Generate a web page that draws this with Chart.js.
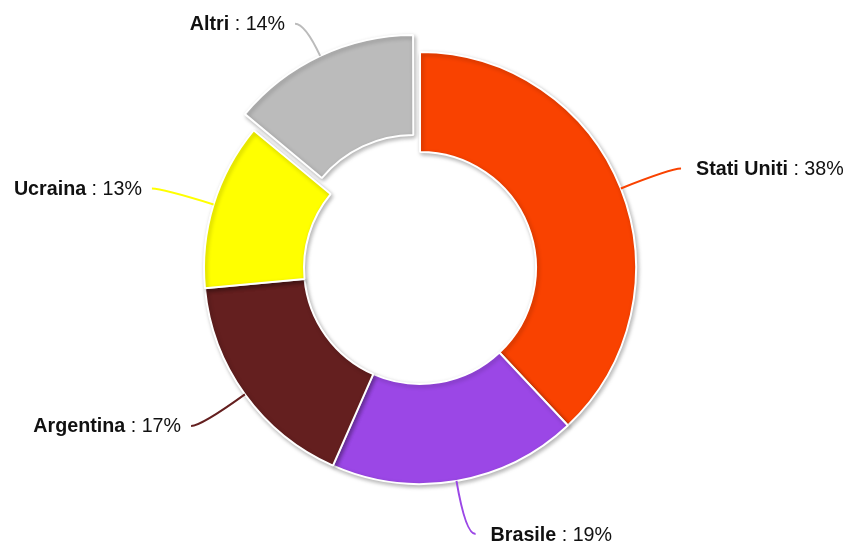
<!DOCTYPE html>
<html>
<head>
<meta charset="utf-8">
<script src="https://cdn.jsdelivr.net/npm/chart.js@4"></script>
<style>
  body { margin: 0; background: #fff; }
  #wrap { width: 849px; height: 545px; }
</style>
</head>
<body>
<div id="wrap"><canvas id="grafico"></canvas></div>
<script>
const paesi = ['Stati Uniti', 'Brasile', 'Argentina', 'Ucraina', 'Altri'];
const quote = [38.0, 18.6, 16.9, 12.5, 14.0];
const colori = ['#f94200', '#9b47e6', '#641f1f', '#ffff00', '#bbbbbb'];
const staccati = [0, 0, 0, 0, 60];

const totale = quote.reduce((a, b) => a + b, 0);
const FONT = '19.7px "Liberation Sans", Arial, sans-serif';

// ombra leggera sotto le fette
const ombra = {
  id: 'ombra',
  beforeDatasetsDraw(chart) {
    const ctx = chart.ctx;
    ctx.save();
    ctx.shadowColor = 'rgba(0,0,0,0.28)';
    ctx.shadowBlur = 4;
    ctx.shadowOffsetX = 1.5;
    ctx.shadowOffsetY = 2;
  },
  afterDatasetsDraw(chart) {
    chart.ctx.restore();
  }
};

// etichette esterne con linea curva
const etichette = {
  id: 'etichette',
  afterDraw(chart) {
    const ctx = chart.ctx;
    const meta = chart.getDatasetMeta(0);
    meta.data.forEach((arc, i) => {
      const p = arc.getProps(['x', 'y', 'startAngle', 'endAngle', 'outerRadius', 'circumference'], true);
      const mid = (p.startAngle + p.endAngle) / 2;
      const o = (arc.options.offset || 0) / 4;
      const fix = 1 - Math.sin(Math.min(Math.PI, p.circumference));
      const d = o * (1 + fix);
      const cos = Math.cos(mid), sin = Math.sin(mid);
      const sx = p.x + cos * (p.outerRadius + d);
      const sy = p.y + sin * (p.outerRadius + d);
      const ex = p.x + cos * (p.outerRadius + 54);
      const ey = p.y + sin * (p.outerRadius + 54);
      const destra = cos >= 0;
      const fx = ex + (destra ? 10 : -10);

      ctx.save();
      ctx.strokeStyle = colori[i];
      ctx.lineWidth = 2;
      ctx.beginPath();
      ctx.moveTo(sx, sy);
      ctx.quadraticCurveTo(ex, ey, fx, ey);
      ctx.stroke();

      const nome = paesi[i];
      const resto = ' : ' + Math.round(quote[i] / totale * 100) + '%';
      ctx.textBaseline = 'middle';
      ctx.fillStyle = '#111111';
      ctx.font = 'bold ' + FONT;
      const w1 = ctx.measureText(nome).width;
      ctx.font = FONT;
      const w2 = ctx.measureText(resto).width;
      const tx = destra ? fx + 15 : fx - 10 - w1 - w2;
      ctx.font = 'bold ' + FONT;
      ctx.fillText(nome, tx, ey + 1);
      ctx.font = FONT;
      ctx.fillText(resto, tx + w1, ey + 1);
      ctx.restore();
    });
  }
};

new Chart(document.getElementById('grafico'), {
  type: 'doughnut',
  data: {
    labels: paesi,
    datasets: [{
      data: quote,
      backgroundColor: colori,
      borderColor: '#ffffff',
      borderWidth: 2,
      offset: staccati,
      hoverOffset: 0
    }]
  },
  options: {
    responsive: true,
    maintainAspectRatio: false,
    animation: false,
    radius: 216,
    cutout: '53.7%',
    layout: { padding: { top: 0, bottom: 9, left: 0, right: 9 } },
    plugins: {
      legend: { display: false },
      tooltip: { enabled: false }
    }
  },
  plugins: [ombra, etichette]
});
</script>
</body>
</html>
